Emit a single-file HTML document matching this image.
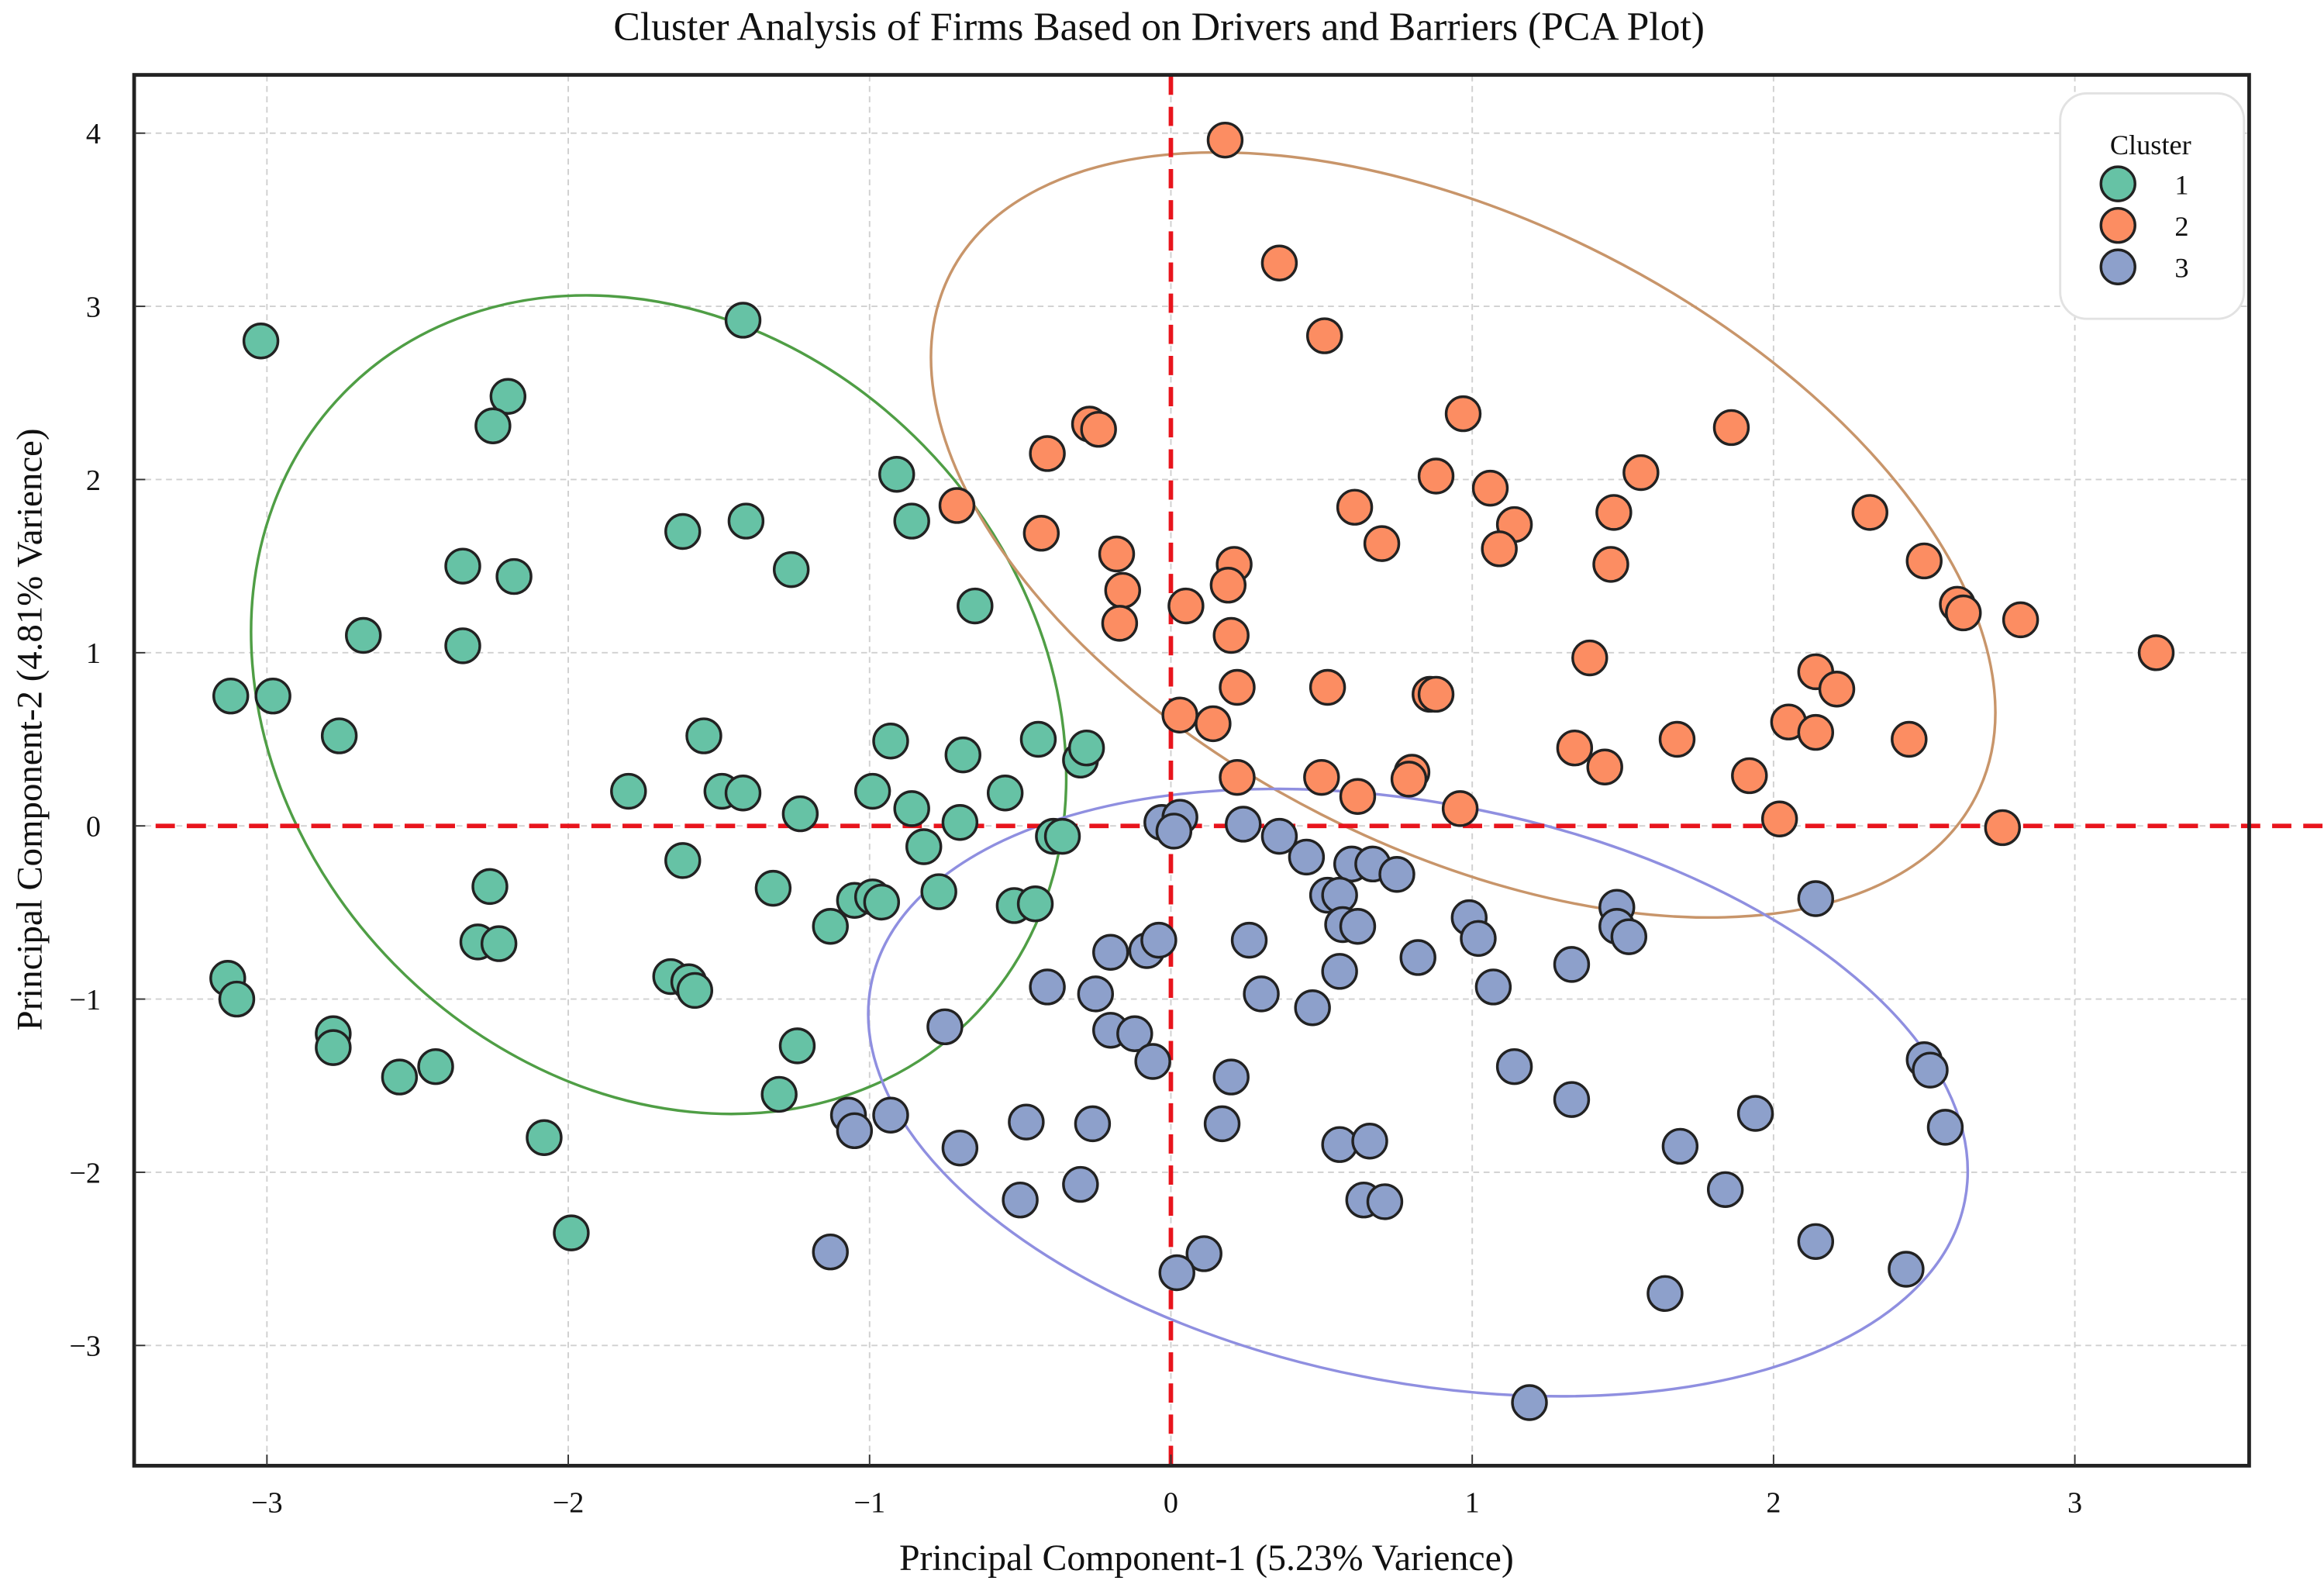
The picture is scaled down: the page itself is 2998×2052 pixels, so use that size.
<!DOCTYPE html>
<html><head><meta charset="utf-8"><style>
html,body{margin:0;padding:0;background:#fff}
svg{display:block}
text{font-family:"Liberation Serif",serif;fill:#111}
</style></head><body>
<svg id="chart" width="2998" height="2052" viewBox="0 0 1568 1073" preserveAspectRatio="none" xmlns="http://www.w3.org/2000/svg">
<rect x="0" y="0" width="1568" height="1073" fill="#fff"/>
<text x="782" y="27" text-anchor="middle" font-size="27">Cluster Analysis of Firms Based on Drivers and Barriers (PCA Plot)</text>
<g id="grid"></g>
<g id="ellipses"></g>
<g id="zero"></g>
<g id="points"></g>
<rect x="90.5" y="50.5" width="1427" height="938" fill="none" stroke="#222" stroke-width="2.5"/>
<g id="ticks"></g>
<text x="814" y="1059" text-anchor="middle" font-size="25">Principal Component-1 (5.23% Varience)</text>
<text transform="translate(28,492) rotate(-90)" text-anchor="middle" font-size="24.5">Principal Component-2 (4.81% Varience)</text>
<g>
<rect x="1390" y="63" width="124" height="152" rx="18" fill="#fff" stroke="#e2e2e2" stroke-width="1.5"/>
<text x="1451" y="104" text-anchor="middle" font-size="19">Cluster</text>
<g><circle cx="1429" cy="124" r="11.5" fill="#66c2a5" stroke="#222" stroke-width="1.8"/><text x="1472" y="131" text-anchor="middle" font-size="19">1</text></g>
<g><circle cx="1429" cy="152" r="11.5" fill="#fc8d62" stroke="#222" stroke-width="1.8"/><text x="1472" y="159" text-anchor="middle" font-size="19">2</text></g>
<g><circle cx="1429" cy="180" r="11.5" fill="#8da0cb" stroke="#222" stroke-width="1.8"/><text x="1472" y="187" text-anchor="middle" font-size="19">3</text></g>
</g>
</svg>
<script>
const xTicks = [-3,-2,-1,0,1,2,3];
const yTicks = [-3,-2,-1,0,1,2,3,4];
const xTickLabels = ["\u22123","\u22122","\u22121","0","1","2","3"];
const yTickLabels = ["\u22123","\u22122","\u22121","0","1","2","3","4"];
const cluster1X = [-3.02,-2.2,-2.25,-1.42,-2.35,-2.18,-2.68,-2.35,-1.62,-1.41,-1.26,-0.91,-0.86,-0.65,-3.12,-2.98,-2.76,-1.55,-1.8,-1.49,-1.42,-1.23,-0.93,-0.99,-0.86,-0.7,-0.69,-0.55,-0.44,-0.3,-0.28,-0.82,-0.39,-0.36,-1.62,-2.26,-1.32,-0.77,-1.05,-0.99,-0.96,-0.52,-0.45,-1.13,-2.3,-2.23,-1.66,-1.6,-1.58,-3.13,-3.1,-2.78,-2.78,-2.56,-2.44,-1.24,-1.3,-2.08,-1.99];
const cluster1Y = [2.8,2.48,2.31,2.92,1.5,1.44,1.1,1.04,1.7,1.76,1.48,2.03,1.76,1.27,0.75,0.75,0.52,0.52,0.2,0.2,0.19,0.07,0.49,0.2,0.1,0.02,0.41,0.19,0.5,0.38,0.45,-0.12,-0.06,-0.06,-0.2,-0.35,-0.36,-0.38,-0.43,-0.41,-0.44,-0.46,-0.45,-0.58,-0.67,-0.68,-0.87,-0.9,-0.95,-0.88,-1.0,-1.2,-1.28,-1.45,-1.39,-1.27,-1.55,-1.8,-2.35];
const cluster2X = [0.18,0.36,0.51,-0.27,-0.24,-0.41,0.97,1.86,0.88,1.06,1.56,-0.71,0.61,1.14,1.47,2.32,-0.43,0.7,1.09,-0.18,0.21,1.46,2.5,0.19,-0.16,-0.17,0.05,2.61,2.63,2.82,0.2,1.39,3.27,2.14,2.21,0.22,0.52,0.86,0.88,0.03,0.14,2.05,1.68,2.45,2.14,1.34,1.44,0.8,0.79,0.22,0.5,1.92,0.62,0.96,2.02,2.76];
const cluster2Y = [3.96,3.25,2.83,2.32,2.29,2.15,2.38,2.3,2.02,1.95,2.04,1.85,1.84,1.74,1.81,1.81,1.69,1.63,1.6,1.57,1.51,1.51,1.53,1.39,1.36,1.17,1.27,1.28,1.23,1.19,1.1,0.97,1.0,0.89,0.79,0.8,0.8,0.76,0.76,0.64,0.59,0.6,0.5,0.5,0.54,0.45,0.34,0.31,0.27,0.28,0.28,0.29,0.17,0.1,0.04,-0.01];
const cluster3X = [-0.03,0.03,0.01,0.24,0.36,0.45,0.6,0.67,0.75,0.52,0.56,0.57,0.62,0.99,1.02,1.48,1.48,1.52,2.14,-0.2,-0.08,-0.04,0.26,0.82,1.07,1.33,-0.41,-0.25,0.3,0.56,-0.75,-0.2,-0.12,-0.06,0.47,1.14,0.2,2.5,2.52,-1.07,-1.05,-0.93,-0.48,-0.26,-0.7,0.17,0.56,0.66,1.33,1.69,1.94,2.57,-0.5,-0.3,0.64,0.71,1.84,2.14,2.44,-1.13,0.11,0.02,1.64,1.19];
const cluster3Y = [0.02,0.05,-0.03,0.01,-0.06,-0.18,-0.22,-0.22,-0.28,-0.4,-0.4,-0.57,-0.58,-0.53,-0.65,-0.47,-0.58,-0.64,-0.42,-0.73,-0.72,-0.66,-0.66,-0.76,-0.93,-0.8,-0.93,-0.97,-0.97,-0.84,-1.16,-1.18,-1.2,-1.36,-1.05,-1.39,-1.45,-1.35,-1.41,-1.67,-1.76,-1.67,-1.71,-1.72,-1.86,-1.72,-1.84,-1.82,-1.58,-1.85,-1.66,-1.74,-2.16,-2.07,-2.16,-2.17,-2.1,-2.4,-2.56,-2.46,-2.47,-2.58,-2.7,-3.33];
const ellipseCX = [-1.7, 0.97, 0.82];
const ellipseCY = [0.7, 1.68, -1.54];
const ellipseRX = [1.47, 1.91, 1.85];
const ellipseRY = [2.14, 1.81, 1.67];
const ellipseAngle = [45.6, 27, 11.2];

const NS="http://www.w3.org/2000/svg";
const X0=790, XU=203.3, Y0=557, YU=116.8;
function sx(v){return X0+v*XU;}
function sy(v){return Y0-v*YU;}
function mk(tag,attrs,parent){const e=document.createElementNS(NS,tag);for(const k in attrs)e.setAttribute(k,attrs[k]);parent.appendChild(e);return e;}

const grid=document.getElementById('grid');
const ticks=document.getElementById('ticks');
xTicks.forEach((t,i)=>{
  const l=mk('line',{x1:sx(t),x2:sx(t),y1:51,y2:988,stroke:'#d0d0d0','stroke-width':1,'stroke-dasharray':'4,3'},grid);
  
  
  mk('line',{x1:sx(t),x2:sx(t),y1:988,y2:981,stroke:'#333','stroke-width':1},ticks);
  const tx=mk('text',{x:sx(t),y:1020,'text-anchor':'middle','font-size':20},ticks);
  tx.textContent=xTickLabels[i];
  
  
});
yTicks.forEach((t,i)=>{
  const l=mk('line',{x1:91,x2:1517,y1:sy(t),y2:sy(t),stroke:'#d0d0d0','stroke-width':1,'stroke-dasharray':'4,3'},grid);
  
  
  mk('line',{x1:91,x2:98,y1:sy(t),y2:sy(t),stroke:'#333','stroke-width':1},ticks);
  const tx=mk('text',{x:68,y:sy(t)+7,'text-anchor':'end','font-size':20},ticks);
  tx.textContent=yTickLabels[i];
  
  
});

const ellG=document.getElementById('ellipses');
const ellColors=['#4f9e45','#c8956a','#8f8fe0'];
const ellNames=['ellipse-cluster-1','ellipse-cluster-2','ellipse-cluster-3'];
for(let i=0;i<3;i++){
  const cx=sx(ellipseCX[i]), cy=sy(ellipseCY[i]);
  const e=mk('ellipse',{cx:cx,cy:cy,rx:ellipseRX[i]*XU,ry:ellipseRY[i]*YU,fill:'none',stroke:ellColors[i],'stroke-width':1.8,transform:'rotate('+ellipseAngle[i]+' '+cx+' '+cy+')'},ellG);
  
  
}

const zero=document.getElementById('zero');
const hz=mk('line',{x1:105,x2:1568,y1:sy(0),y2:sy(0),stroke:'#e8141c','stroke-width':3,'stroke-dasharray':'13,8'},zero);


const vz=mk('line',{x1:sx(0),x2:sx(0),y1:51,y2:988,stroke:'#e8141c','stroke-width':3,'stroke-dasharray':'13,8'},zero);



const pts=document.getElementById('points');
const series=[[cluster1X,cluster1Y,'#66c2a5','point-cluster-1'],[cluster2X,cluster2Y,'#fc8d62','point-cluster-2'],[cluster3X,cluster3Y,'#8da0cb','point-cluster-3']];
series.forEach(s=>{
  for(let i=0;i<s[0].length;i++){
    const c=mk('circle',{cx:sx(s[0][i]),cy:sy(s[1][i]),r:11.5,fill:s[2],stroke:'#222','stroke-width':1.8},pts);
    
    
  }
});
</script>
</body></html>
